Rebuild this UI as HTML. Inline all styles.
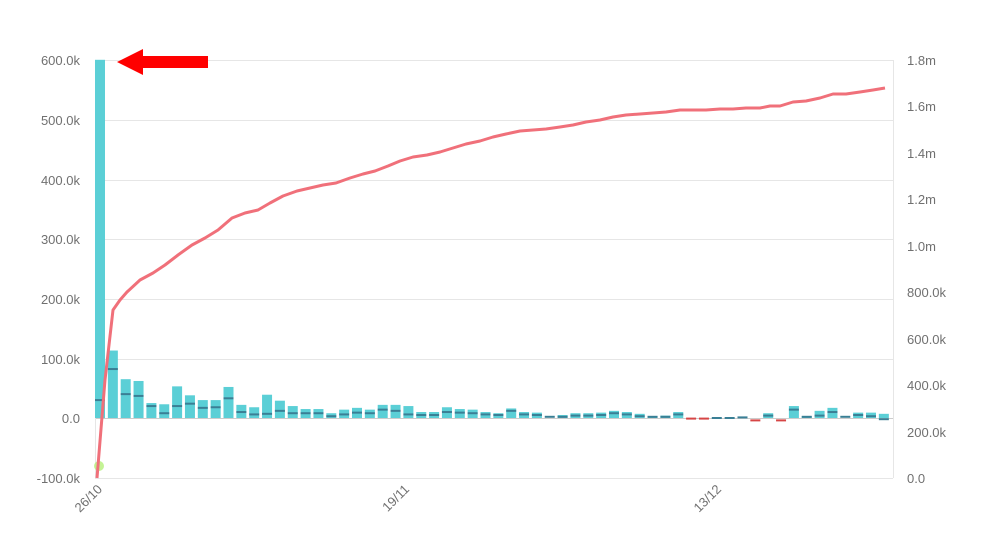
<!DOCTYPE html>
<html><head><meta charset="utf-8"><style>
html,body{margin:0;padding:0;background:#fff;width:1000px;height:544px;overflow:hidden}
svg text{font-family:"Liberation Sans",sans-serif;font-size:13px;fill:#707070}
</style></head><body>
<svg id="c" width="1000" height="544" xmlns="http://www.w3.org/2000/svg">
<g id="grid" stroke="#e6e6e6" stroke-width="1">
<line x1="95" y1="60.5" x2="893" y2="60.5"/><line x1="95" y1="120.5" x2="893" y2="120.5"/>
<line x1="95" y1="180.5" x2="893" y2="180.5"/><line x1="95" y1="239.5" x2="893" y2="239.5"/>
<line x1="95" y1="299.5" x2="893" y2="299.5"/><line x1="95" y1="359.5" x2="893" y2="359.5"/>
<line x1="95" y1="418.5" x2="893" y2="418.5" stroke="#ccc"/><line x1="95" y1="478.5" x2="893" y2="478.5"/>
<line x1="95.5" y1="60" x2="95.5" y2="478"/><line x1="893.5" y1="60" x2="893.5" y2="478"/>
</g>
<g text-anchor="end">
<text x="80" y="65">600.0k</text><text x="80" y="125">500.0k</text><text x="80" y="185">400.0k</text>
<text x="80" y="244">300.0k</text><text x="80" y="304">200.0k</text><text x="80" y="364">100.0k</text>
<text x="80" y="423">0.0</text><text x="80" y="483">-100.0k</text>
</g>
<g>
<text x="907" y="65">1.8m</text><text x="907" y="111">1.6m</text><text x="907" y="158">1.4m</text>
<text x="907" y="204">1.2m</text><text x="907" y="251">1.0m</text><text x="907" y="297">800.0k</text>
<text x="907" y="344">600.0k</text><text x="907" y="390">400.0k</text><text x="907" y="437">200.0k</text>
<text x="907" y="483">0.0</text>
</g>
<g text-anchor="end">
<text transform="translate(103,490) rotate(-45)">26/10</text>
<text transform="translate(410,490) rotate(-45)">19/11</text>
<text transform="translate(722,490) rotate(-45)">13/12</text>
</g>
<g id="bars"></g>
<circle cx="99" cy="466" r="5" fill="#b5f07a" opacity="0.8"/>
<polyline id="line" fill="none" stroke="#f0707a" stroke-width="3" stroke-linejoin="round"/>
<polygon points="117,62 143,49 143,56 208,56 208,68 143,68 143,75" fill="#ff0000"/>
</svg>
<script>
var top_=[600,113,65,62,25,23,53,38,30,30,52,22,18,39,29,20,15,15,8,14,17,14,22,22,20,10,10,18,15,14,10,8,16,10,9,2,5,8,8,9,12,10,7,3,4,10,-1,-1,0,0,1,-4,8,-4,20,3,12,17,2,9,9,7];
var mk=[30,82,40,37,20,8,20,24,17,18,33,10,6,7,12,8,8,8,3,6,9,8,14,12,6,5,5,10,9,8,6,5,12,6,5,2,2,4,4,5,8,6,3,2,2,6,-1,-1,0,0,1,-4,4,-4,14,2,4,10,2,5,3,-2];
var g=document.getElementById('bars'),s='';
function Y(v){return 418-v*0.597;}
for(var i=0;i<top_.length;i++){var x=95+i*12.85,t=top_[i];
 if(t>2){s+='<rect x="'+x+'" y="'+Y(t)+'" width="10" height="'+(418-Y(t))+'" fill="#5bcfd6"/>';}
 var neg=t<0;
 s+='<rect x="'+x+'" y="'+(Y(mk[i])-1)+'" width="10" height="2" fill="'+(neg?'#d64545':'#3a7f95')+'"/>';}
g.innerHTML=s;
var pts=[[97,478],[105,380],[113,310],[120,300],[127,292],[140,280],[153,273],[165,265],[178,255],[192,245],[205,238],[218,230],[232,218],[245,213],[258,210],[270,203],[283,196],[297,191],[310,188],[323,185],[336,183],[350,178],[363,174],[375,171],[388,166],[400,161],[413,157],[427,155],[440,152],[453,148],[466,144],[480,141],[493,137],[506,134],[520,131],[533,130],[546,129],[560,127],[573,125],[586,122],[600,120],[613,117],[626,115],[640,114],[653,113],[666,112],[680,110],[693,110],[706,110],[720,109],[733,109],[746,108],[760,108],[770,106],[780,106],[793,102],[806,101],[820,98],[833,94],[846,94],[860,92],[873,90],[885,88]];
document.getElementById('line').setAttribute('points',pts.map(function(p){return p.join(',')}).join(' '));
</script>
</body></html>
